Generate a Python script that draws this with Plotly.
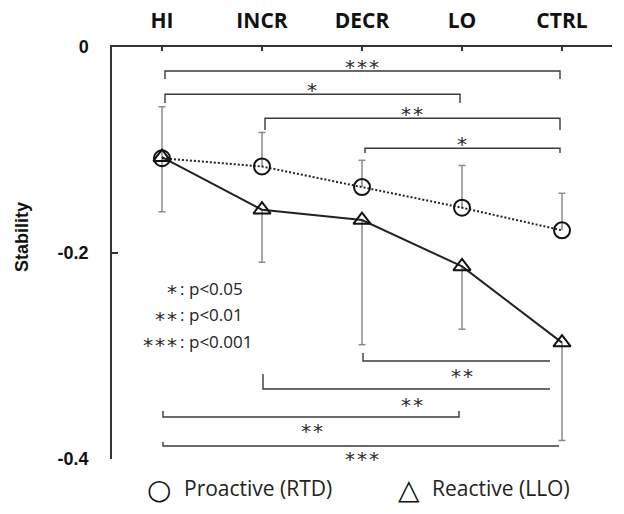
import plotly.graph_objects as go

# ---------------- data ----------------
categories = ["HI", "INCR", "DECR", "LO", "CTRL"]
proactive = [-0.108, -0.116, -0.136, -0.156, -0.178]          # Proactive (RTD)
proactive_err_up = [0.050, 0.033, 0.026, 0.041, 0.036]
reactive = [-0.107, -0.158, -0.168, -0.213, -0.287]           # Reactive (LLO)
reactive_err_down = [0.053, 0.051, 0.121, 0.061, 0.095]

top_comparisons = [("HI", "CTRL", "***"), ("HI", "LO", "*"),
                   ("INCR", "CTRL", "**"), ("DECR", "CTRL", "*")]
bottom_comparisons = [("DECR", "CTRL", "**"), ("INCR", "CTRL", "**"),
                      ("HI", "LO", "**"), ("HI", "CTRL", "***")]
sig_marks = ["*", "**", "***"]
sig_text = ["p<0.05", "p<0.01", "p<0.001"]
y_ticks = [0, -0.2, -0.4]
y_tick_text = ["0", "-0.2", "-0.4"]

# ---------------- layout geometry ----------------
W, H = 624, 514
L, R, T, B = 112, 12, 47, 55
PW, PH = W - L - R, H - T - B
YMIN, YMAX = -0.4, 0.0


def py2d(py):
    return YMAX - (py - T) / PH * (YMAX - YMIN)


def px2p(px):
    return (px - L) / PW


def py2p(py):
    return 1 - (py - T) / PH


idx = {c: i for i, c in enumerate(categories)}
xs = list(range(len(categories)))

fig = go.Figure()

# error bars (one-sided, cap only at the far end)
CAP = 0.035
ex, ey = [], []
for i, (v, e) in enumerate(zip(proactive, proactive_err_up)):
    ex += [i, i, None, i - CAP, i + CAP, None]
    ey += [v, v + e, None, v + e, v + e, None]
for i, (v, e) in enumerate(zip(reactive, reactive_err_down)):
    ex += [i, i, None, i - CAP, i + CAP, None]
    ey += [v, v - e, None, v - e, v - e, None]
fig.add_trace(go.Scatter(x=ex, y=ey, mode="lines", line=dict(color="#8a8a8a", width=1.5),
                         showlegend=False, hoverinfo="skip"))

fig.add_trace(go.Scatter(
    x=xs, y=proactive, mode="lines+markers", name="Proactive (RTD)",
    line=dict(color="#222", width=2, dash="2px,2px"),
    marker=dict(symbol="circle-open", size=16, line=dict(color="#111", width=2), color="#111"),
    showlegend=False))
fig.add_trace(go.Scatter(
    x=xs, y=reactive, mode="lines+markers", name="Reactive (LLO)",
    line=dict(color="#222", width=2),
    marker=dict(symbol="triangle-up-open", size=15, line=dict(color="#111", width=2), color="#111"),
    showlegend=False))

shapes = []
annotations = []
BR_COLOR = "#3a3a3a"
AST_FONT = dict(family="DejaVu Sans Mono", size=20, color="#2a2a2a")

# top brackets: (level px, tip px)
top_geo = [(71, 79), (94.3, 103), (118.3, 130), (148.3, 153)]
for (a, b, lab), (lev, tip) in zip(top_comparisons, top_geo):
    x0, x1 = idx[a] + 0.03, idx[b] - 0.02
    yl, yt = py2d(lev), py2d(tip)
    shapes.append(dict(type="path", xref="x", yref="y",
                       path=f"M{x0},{yt} L{x0},{yl} L{x1},{yl} L{x1},{yt}",
                       line=dict(color=BR_COLOR, width=1.4)))
    annotations.append(dict(x=(idx[a] + idx[b]) / 2, y=py2d(lev - 4), xref="x", yref="y",
                            text=lab, showarrow=False, font=AST_FONT,
                            xanchor="center", yanchor="middle"))

# bottom brackets: (level px, left tip px, right tip px or None, right inset)
bot_geo = [(361, 353, None, 0.12), (389, 374, None, 0.12),
           (417, 411, 411, 0.03), (446, 442, None, 0.03)]
bot_text_off = [15, 16, 14, 13]
for (a, b, lab), (lev, lt, rt, ins), off in zip(bottom_comparisons, bot_geo, bot_text_off):
    x0, x1 = idx[a] + 0.01, idx[b] - ins
    yl = py2d(lev)
    path = f"M{x0},{py2d(lt)} L{x0},{yl} L{x1},{yl}"
    if rt is not None:
        path += f" L{x1},{py2d(rt)}"
    shapes.append(dict(type="path", xref="x", yref="y", path=path,
                       line=dict(color=BR_COLOR, width=1.4)))
    annotations.append(dict(x=(idx[a] + idx[b]) / 2, y=py2d(lev + off), xref="x", yref="y",
                            text=lab, showarrow=False, font=AST_FONT,
                            xanchor="center", yanchor="middle"))

# significance key
for k, (m, t) in enumerate(zip(sig_marks, sig_text)):
    yy = py2p(288 + k * 26.5)
    annotations.append(dict(x=px2p(180), y=py2p(288 + k * 26.5 + 4), xref="paper", yref="paper",
                            text=m, showarrow=False, xanchor="right", yanchor="middle",
                            font=AST_FONT))
    annotations.append(dict(x=px2p(186), y=yy, xref="paper", yref="paper",
                            text=":", showarrow=False, xanchor="right", yanchor="middle",
                            font=dict(family="Open Sans", size=17, color="#222")))
    annotations.append(dict(x=px2p(187), y=yy, xref="paper", yref="paper",
                            text=t, showarrow=False, xanchor="left", yanchor="middle",
                            font=dict(family="Open Sans", size=17, color="#222")))

# y-axis title
annotations.append(dict(x=px2p(22), y=py2p(237), xref="paper", yref="paper",
                        text="<b>Stability</b>", textangle=-90, showarrow=False,
                        xanchor="center", yanchor="middle",
                        font=dict(family="Liberation Sans", size=18, color="#111")))

# legend (drawn as text symbols)
legend_items = [("○", "Proactive (RTD)", 159, 182), ("△", "Reactive (LLO)", 409, 430)]
for sym, lab, sx, tx in legend_items:
    annotations.append(dict(x=px2p(sx), y=py2p(489), xref="paper", yref="paper", text=sym,
                            showarrow=False, xanchor="center", yanchor="middle",
                            font=dict(family="DejaVu Sans", size=28, color="#111")))
    annotations.append(dict(x=px2p(tx), y=py2p(488), xref="paper", yref="paper", text=lab,
                            showarrow=False, xanchor="left", yanchor="middle",
                            font=dict(family="Open Sans", size=21, color="#222")))

fig.update_layout(
    width=W, height=H, margin=dict(l=L, r=R, t=T, b=B, autoexpand=False),
    paper_bgcolor="white", plot_bgcolor="white",
    shapes=shapes, annotations=annotations, showlegend=False,
    xaxis=dict(side="top", range=[-0.5, 4.5], tickvals=xs + [4.5], ticktext=categories + [""],
               showline=True, linecolor="#333", linewidth=1.5, ticks="inside", ticklen=4,
               tickcolor="#333", tickwidth=1.5, showgrid=False, zeroline=False, automargin=False,
               tickfont=dict(family="Open Sans", size=21, color="#111", weight="bold"),
               ticklabelstandoff=9),
    yaxis=dict(range=[YMIN, YMAX], tickvals=y_ticks, ticktext=y_tick_text,
               showline=True, linecolor="#333", linewidth=1.5, ticks="inside", ticklen=6,
               tickcolor="#333", tickwidth=1.5, showgrid=False, zeroline=False, automargin=False,
               tickfont=dict(family="Liberation Sans", size=18, color="#111", weight="bold"),
               ticklabelstandoff=18),
)

fig.write_html("out.html", config={"displayModeBar": False},
               post_script="document.body.style.margin='0';")
